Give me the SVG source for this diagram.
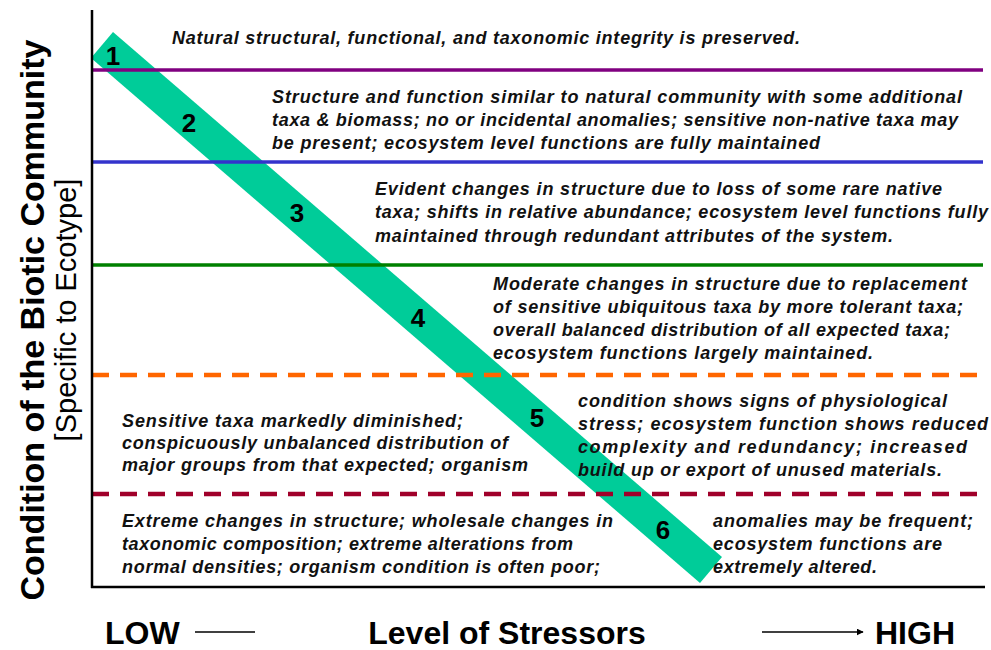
<svg xmlns="http://www.w3.org/2000/svg" width="991" height="650" viewBox="0 0 991 650">
<defs>
<style>
.t{font-family:"Liberation Sans",Arial,sans-serif;font-weight:bold;font-style:italic;font-size:18px;fill:#111}
.n{font-family:"Liberation Sans",Arial,sans-serif;font-weight:bold;font-size:26px;fill:#000;text-anchor:middle}
.ax{font-family:"Liberation Sans",Arial,sans-serif;fill:#000}
.sl{stroke-width:3.5;fill:none}
.dl{stroke-width:4.5;fill:none;stroke-dasharray:17 11}
</style>
<marker id="ah" viewBox="0 0 10 10" refX="9" refY="5" markerWidth="7" markerHeight="7" markerUnits="userSpaceOnUse" orient="auto">
<path d="M0,0 L10,5 L0,10 Z" fill="#000"/>
</marker>
</defs>
<rect width="991" height="650" fill="#fff"/>

<g id="band">
<polygon points="113,32 722,557 700,583 91,58" fill="#00cc99"/>
</g>

<g id="zone-lines">
<line class="sl" x1="92" y1="70" x2="983" y2="70" stroke="#800080"/>
<line class="sl" x1="92" y1="162" x2="983" y2="162" stroke="#3333cc"/>
<line class="sl" x1="92" y1="265" x2="983" y2="265" stroke="#008000"/>
<line class="dl" x1="92" y1="375" x2="983" y2="375" stroke="#ff6600"/>
<line class="dl" x1="92" y1="494" x2="983" y2="494" stroke="#a0002a"/>
</g>

<g id="axes">
<line x1="92" y1="10" x2="92" y2="588" stroke="#000" stroke-width="2.5"/>
<line x1="91" y1="587" x2="985" y2="587" stroke="#000" stroke-width="2.5"/>
</g>

<g id="zone1">
<text class="t" x="172" y="44" textLength="628" lengthAdjust="spacing">Natural structural, functional, and taxonomic integrity is preserved.</text>
<text class="n" x="113" y="65">1</text>
</g>
<g id="zone2">
<text class="t" x="272" y="103" textLength="690" lengthAdjust="spacing">Structure and function similar to natural community with some additional</text>
<text class="t" x="272" y="126" textLength="686" lengthAdjust="spacing">taxa &amp; biomass; no or incidental anomalies; sensitive non-native taxa may</text>
<text class="t" x="272" y="149" textLength="548" lengthAdjust="spacing">be present; ecosystem level functions are fully maintained</text>
<text class="n" x="189" y="132">2</text>
</g>
<g id="zone3">
<text class="t" x="375" y="195" textLength="567" lengthAdjust="spacing">Evident changes in structure due to loss of some rare native</text>
<text class="t" x="375" y="218" textLength="613" lengthAdjust="spacing">taxa; shifts in relative abundance; ecosystem level functions fully</text>
<text class="t" x="375" y="242" textLength="518" lengthAdjust="spacing">maintained through redundant attributes of the system.</text>
<text class="n" x="297" y="222">3</text>
</g>
<g id="zone4">
<text class="t" x="493" y="290" textLength="474" lengthAdjust="spacing">Moderate changes in structure due to replacement</text>
<text class="t" x="493" y="313" textLength="470" lengthAdjust="spacing">of sensitive ubiquitous taxa by more tolerant taxa;</text>
<text class="t" x="493" y="336" textLength="457" lengthAdjust="spacing">overall balanced distribution of all expected taxa;</text>
<text class="t" x="493" y="359" textLength="380" lengthAdjust="spacing">ecosystem functions largely maintained.</text>
<text class="n" x="418" y="327">4</text>
</g>
<g id="zone5">
<text class="t" x="122" y="427" textLength="341" lengthAdjust="spacing">Sensitive taxa markedly diminished;</text>
<text class="t" x="122" y="449" textLength="386" lengthAdjust="spacing">conspicuously unbalanced distribution of</text>
<text class="t" x="122" y="471" textLength="406" lengthAdjust="spacing">major groups from that expected; organism</text>
<text class="t" x="578" y="407" textLength="369" lengthAdjust="spacing">condition shows signs of physiological</text>
<text class="t" x="578" y="430" textLength="410" lengthAdjust="spacing">stress; ecosystem function shows reduced</text>
<text class="t" x="578" y="453" textLength="389" lengthAdjust="spacing">complexity and redundancy; increased</text>
<text class="t" x="578" y="476" textLength="364" lengthAdjust="spacing">build up or export of unused materials.</text>
<text class="n" x="537" y="427">5</text>
</g>
<g id="zone6">
<text class="t" x="122" y="527" textLength="491" lengthAdjust="spacing">Extreme changes in structure; wholesale changes in</text>
<text class="t" x="122" y="550" textLength="451" lengthAdjust="spacing">taxonomic composition; extreme alterations from</text>
<text class="t" x="122" y="573" textLength="478" lengthAdjust="spacing">normal densities; organism condition is often poor;</text>
<text class="t" x="713" y="527" textLength="260" lengthAdjust="spacing">anomalies may be frequent;</text>
<text class="t" x="713" y="550" textLength="229" lengthAdjust="spacing">ecosystem functions are</text>
<text class="t" x="713" y="573" textLength="164" lengthAdjust="spacing">extremely altered.</text>
<text class="n" x="663" y="539">6</text>
</g>

<g id="y-label">
<text class="ax" transform="translate(44,320) rotate(-90)" font-size="34" font-weight="bold" text-anchor="middle">Condition of the Biotic Community</text>
<text class="ax" transform="translate(76,310) rotate(-90)" font-size="29" text-anchor="middle">[Specific to Ecotype]</text>
</g>

<g id="x-label">
<text class="ax" x="105" y="644" font-size="32" font-weight="bold">LOW</text>
<text class="ax" x="507" y="644" font-size="32" font-weight="bold" text-anchor="middle">Level of Stressors</text>
<text class="ax" x="875" y="644" font-size="32" font-weight="bold">HIGH</text>
</g>
<g id="connectors">
<line x1="195" y1="632" x2="255" y2="632" stroke="#000" stroke-width="1.5"/>
<line x1="762" y1="632" x2="863" y2="632" stroke="#000" stroke-width="1.5" marker-end="url(#ah)"/>
</g>
</svg>
